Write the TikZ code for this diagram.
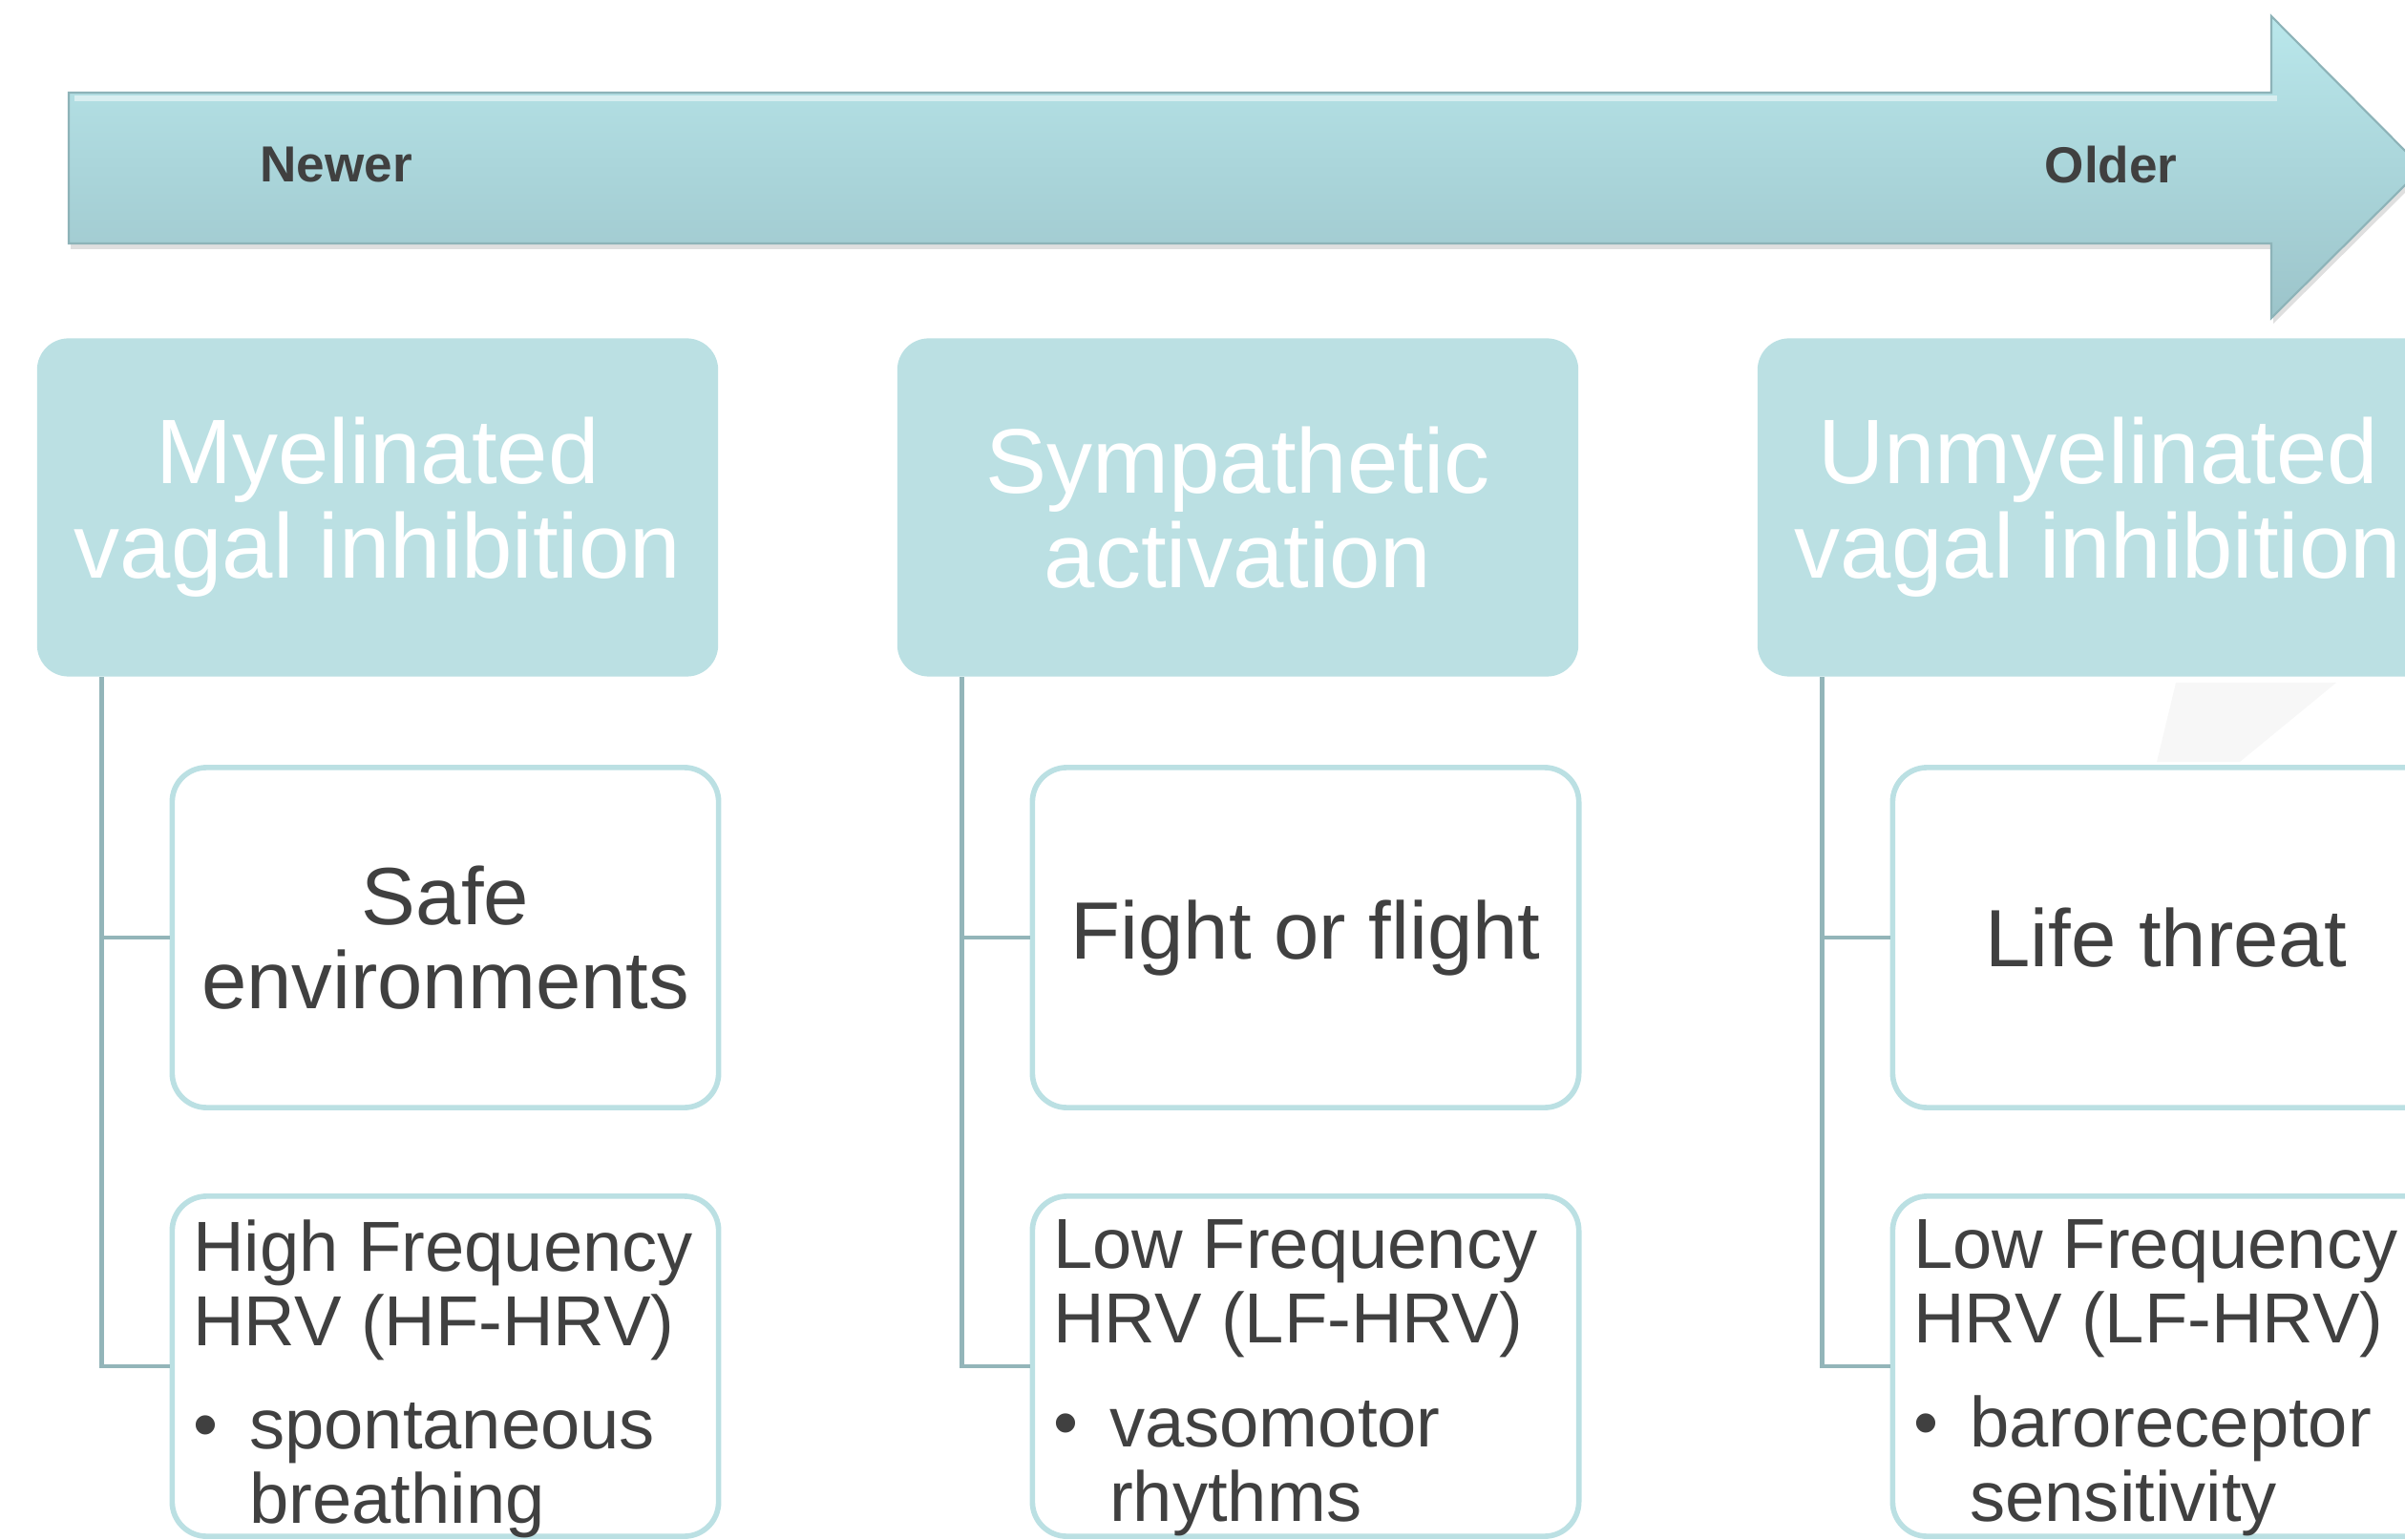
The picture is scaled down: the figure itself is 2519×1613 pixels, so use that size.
\documentclass[tikz,border=0pt]{standalone}
\usepackage{fontspec}
\setmainfont{Liberation Sans}
\usetikzlibrary{shadows}
\definecolor{tealfill}{HTML}{BBE0E3}
\definecolor{arrowtop}{HTML}{B9E7EB}
\definecolor{arrowbot}{HTML}{9CC4CA}
\definecolor{arrowedge}{HTML}{8DB3B8}
\definecolor{linkgray}{HTML}{93B5B9}
\definecolor{txtgray}{HTML}{404040}
\definecolor{ghost}{HTML}{F7F7F7}
\tikzset{
  header/.style={rectangle, rounded corners=0.33cm, fill=tealfill, text=white,
    minimum width=7.13cm, minimum height=3.54cm, align=center, inner sep=0pt,
    font=\fontsize{27.3}{28.2}\selectfont},
  child/.style={rectangle, rounded corners=0.36cm, draw=tealfill, line width=1.6pt,
    fill=white, minimum width=5.72cm, minimum height=3.56cm, inner sep=0pt,
    text=txtgray, align=center, font=\fontsize{24.2}{25}\selectfont},
  listtxt/.style={text=txtgray, align=left, anchor=north west, inner sep=0pt,
    font=\fontsize{21.1}{22.2}\selectfont},
  link/.style={draw=linkgray, line width=1.4pt},
  tag/.style={text=txtgray, font=\bfseries\fontsize{15.1}{18}\selectfont}
}
\newcommand{\bul}{\makebox[0.59cm][l]{\textbullet}}
\begin{document}
\begin{tikzpicture}[x=0.01cm, y=-0.01cm]
  \useasboundingbox (0,0) rectangle (2519,1613);
  \clip (0,0) rectangle (2519,1613);
  % big arrow
  \path[top color=arrowtop, bottom color=arrowbot, draw=arrowedge, line width=0.6pt,
        drop shadow={shadow xshift=0.02cm, shadow yshift=-0.06cm, opacity=0.25}]
    (72,97) -- (2379,97) -- (2379,17) -- (2537,176) -- (2379,333)
    -- (2379,255) -- (72,255) -- cycle;
  \draw[white, opacity=0.5, line width=1.5pt] (78,103) -- (2385,103);
  \node[tag] (newer) at (352,173) {Newer};
  \node[tag] (older) at (2211,173) {Older};
  % faint artefact
  \fill[ghost] (2279,715) -- (2447,715) -- (2346,798) -- (2259,798) -- cycle;
  % headers
  \node[header] (myel) at (395.5,531.5) {Myelinated\\vagal inhibition};
  \node[header] (symp) at (1296.5,531.5) {Sympathetic\\activation};
  \node[header] (unmyel) at (2197.5,531.5) {Unmyelinated\\vagal inhibition};
  % children
  \node[child] (safe) at (466.5,982) {Safe\\environments};
  \node[child] (fight) at (1367.5,982) {Fight or flight};
  \node[child] (life) at (2268.5,982) {Life threat};
  \node[child] (hf) at (466.5,1431) {};
  \node[child] (lf) at (1367.5,1431) {};
  \node[child] (lfb) at (2268.5,1431) {};
  \node[listtxt] (hftxt) at ([shift={(24,27)}]hf.north west)
    {High Frequency\\HRV (HF-HRV)\\[0.3cm]\bul spontaneous\\\hspace*{0.59cm}breathing};
  \node[listtxt] (lftxt) at ([shift={(24,27)}]lf.north west)
    {Low Frequency\\HRV (LF-HRV)\\[0.3cm]\bul vasomotor\\\hspace*{0.59cm}rhythms};
  \node[listtxt] (lfbtxt) at ([shift={(24,27)}]lfb.north west)
    {Low Frequency\\HRV (LF-HRV)\\[0.3cm]\bul baroreceptor\\\hspace*{0.59cm}sensitivity};
  % connectors
  \draw[link] ([xshift=0.68cm]myel.south west) |- (safe.west);
  \draw[link] ([xshift=0.68cm]myel.south west) |- (hf.west);
  \draw[link] ([xshift=0.68cm]symp.south west) |- (fight.west);
  \draw[link] ([xshift=0.68cm]symp.south west) |- (lf.west);
  \draw[link] ([xshift=0.68cm]unmyel.south west) |- (life.west);
  \draw[link] ([xshift=0.68cm]unmyel.south west) |- (lfb.west);
\end{tikzpicture}
\end{document}
